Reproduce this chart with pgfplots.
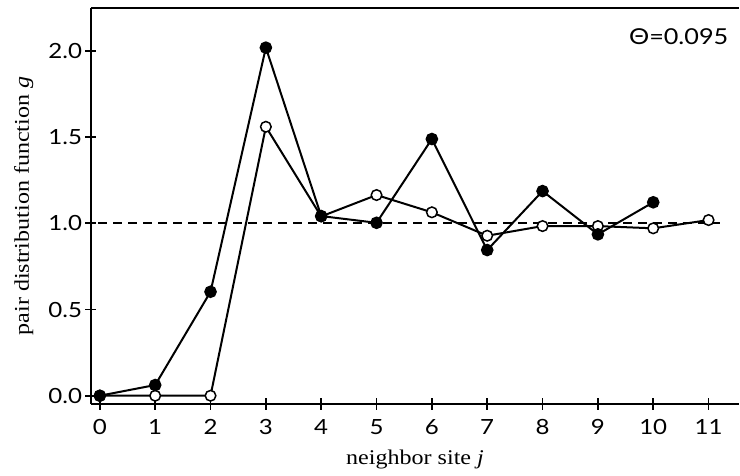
\documentclass[border=0pt]{standalone}
\usepackage{pgfplots}
\pgfplotsset{compat=1.18}
\usepackage{fontspec}
\setmainfont{Liberation Serif}[FakeStretch=1.15]
\newfontfamily\tickfont{Lato}[FakeStretch=1.15]
\begin{document}
\begin{tikzpicture}
\begin{axis}[
  scale only axis,
  width=648bp, height=396bp,
  xmin=-0.16, xmax=11.55,
  ymin=-0.048, ymax=2.249,
  axis x line*=box, axis y line*=left,
  xtick={0,...,11},
  ytick={0,0.5,1.0,1.5,2.0},
  yticklabel style={/pgf/number format/fixed,/pgf/number format/fixed zerofill,/pgf/number format/precision=1, anchor=east, xshift=0bp},
  xticklabel style={anchor=north, yshift=-6bp},
  /pgf/number format/assume math mode=true,
  ticklabel style={font=\tickfont\fontsize{21}{21}\selectfont},
  tick align=center,
  major tick length=11bp,
  tick style={line width=1.8bp, black},
  axis line style={line width=1.8bp},
  xtick pos=bottom, ytick pos=left,
  xlabel={neighbor site \textit{j}},
  ylabel={pair distribution function \textit{g}},
  label style={font=\fontsize{21}{21}\selectfont},
  xlabel style={at={(axis description cs:0.5,-0.154)}, anchor=base},
  ylabel style={at={(axis description cs:-0.0957,0.5)}, anchor=base},
  clip=false,
]
\addplot[black, dashed, dash pattern=on 9bp off 6bp, line width=2bp] coordinates {(-0.03,1.0) (11.2,1.0)};
\addplot[black, line width=2bp, mark=*, mark size=5.3bp, mark options={fill=white, line width=1.5bp}] coordinates {
(0,0) (1,0) (2,0) (3,1.56) (4,1.04) (5,1.164) (6,1.064) (7,0.928) (8,0.984) (9,0.984) (10,0.971) (11,1.019)};
\addplot[black, line width=2bp, mark=*, mark size=5.3bp, mark options={fill=black}] coordinates {
(0,0) (1,0.062) (2,0.603) (3,2.019) (4,1.042) (5,1.003) (6,1.489) (7,0.845) (8,1.187) (9,0.936) (10,1.122)};
\node[anchor=east, font=\tickfont\fontsize{22}{22}\selectfont] at (axis cs:11.42,2.08) {Θ=0.095};
\end{axis}
\pgfresetboundingbox
\path ([xshift=-91bp,yshift=-72bp]current axis.south west) rectangle ++(740bp,476bp);
\end{tikzpicture}
\end{document}
